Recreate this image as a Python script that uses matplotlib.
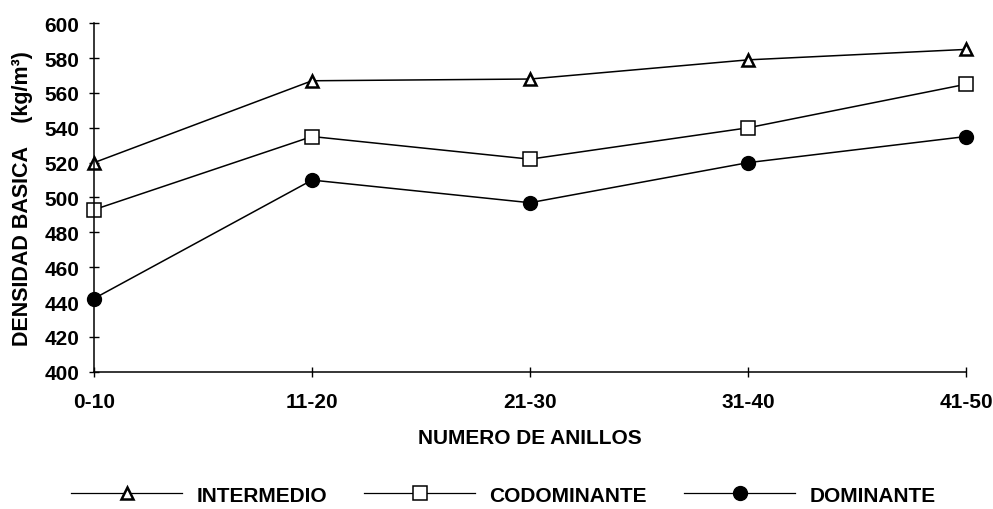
import matplotlib
matplotlib.use("Agg")
import matplotlib.pyplot as plt

# Ring-group categories and basic density (kg/m3) per crown class
categories = ["0-10", "11-20", "21-30", "31-40", "41-50"]
intermedio = [520, 567, 568, 579, 585]
codominante = [493, 535, 522, 540, 565]
dominante = [442, 510, 497, 520, 535]
y_ticks = [400, 420, 440, 460, 480, 500, 520, 540, 560, 580, 600]

plt.rcParams["font.family"] = ["Liberation Sans", "DejaVu Sans"]
plt.rcParams["font.weight"] = "bold"

fig = plt.figure(figsize=(9.93, 5.10), dpi=100)
ax = fig.add_axes([0.0947, 0.2692, 0.8781, 0.6832])

x = list(range(len(categories)))
ax.plot(x, intermedio, color="black", lw=1.1, marker="^", ms=9,
        mfc="white", mec="black", mew=1.8, label="INTERMEDIO", clip_on=False)
ax.plot(x, codominante, color="black", lw=1.1, marker="s", ms=9.5,
        mfc="white", mec="black", mew=1.1, label="CODOMINANTE", clip_on=False)
ax.plot(x, dominante, color="black", lw=1.1, marker="o", ms=10,
        mfc="black", mec="black", label="DOMINANTE", clip_on=False)

ax.set_xlim(0, len(categories) - 1)
ax.set_ylim(400, 600)
ax.set_xticks(x)
ax.set_xticklabels(categories)
ax.set_yticks(y_ticks)

for side in ("top", "right"):
    ax.spines[side].set_visible(False)
for side in ("left", "bottom"):
    ax.spines[side].set_linewidth(1.1)

ax.tick_params(axis="y", direction="inout", length=7, width=1.0,
               labelsize=15, pad=7)
ax.tick_params(axis="x", direction="inout", length=7, width=1.0,
               labelsize=15, pad=11)
for lbl in ax.get_xticklabels() + ax.get_yticklabels():
    lbl.set_fontweight("bold")

ax.set_ylabel("DENSIDAD BASICA    (kg/m\u00b3)", fontsize=15.5,
              fontweight="bold", labelpad=8)
ax.set_xlabel("NUMERO DE ANILLOS", fontsize=15, fontweight="bold",
              labelpad=12)

leg = fig.legend(loc="lower center", bbox_to_anchor=(0.507, -0.028), ncol=3,
                 frameon=False, handlelength=5.3, columnspacing=1.8,
                 handletextpad=0.7, prop={"size": 15, "weight": "bold"})
for line in leg.get_lines():
    line.set_linewidth(0.9)

fig.savefig("out.png", dpi=100)
